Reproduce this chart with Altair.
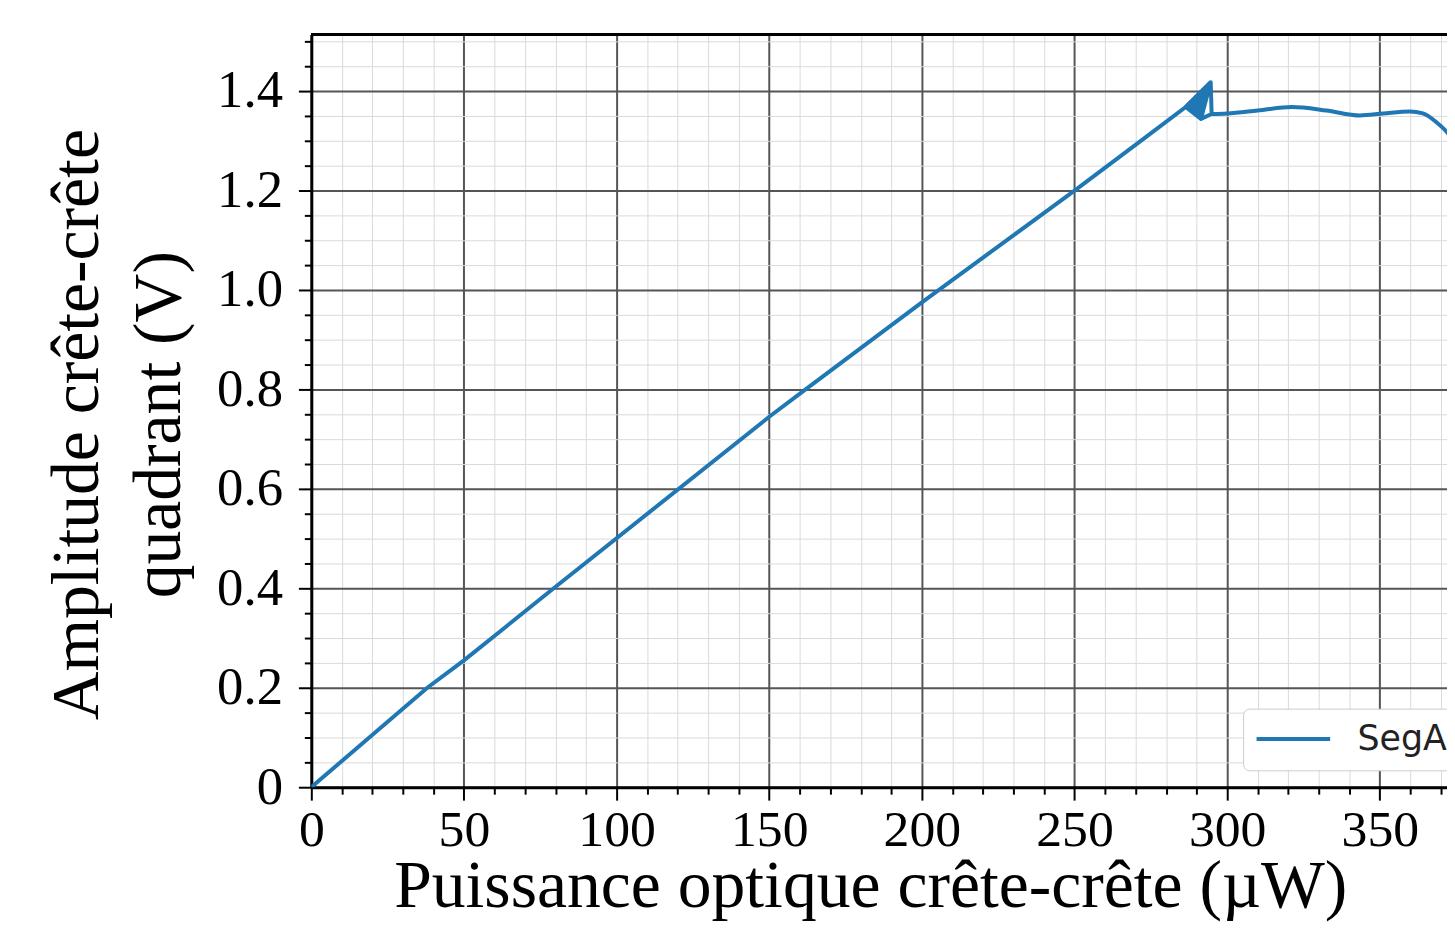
import altair as alt
import pandas as pd

# Data
# rising linear part
rise_x = [0, 38.0, 50, 79.4, 150, 161.9, 200, 250, 272.8, 286.4, 294.6]
rise_y = [0, 0.2, 0.255, 0.4, 0.745, 0.8, 0.975, 1.2, 1.305, 1.368, 1.418]
# noisy back-and-forth cluster at the top of the rise
loop_x = [294.6, 291.4, 293.8, 291.4, 293.0, 291.4, 292.1, 291.4, 291.3, 291.4,
          290.5, 291.4, 289.7, 291.4, 288.9, 291.4, 288.0, 291.4, 287.2, 291.4,
          286.4, 291.4, 294.9, 294.6, 294.9]
loop_y = [1.418, 1.344, 1.413, 1.344, 1.408, 1.344, 1.403, 1.344, 1.398, 1.344,
          1.393, 1.344, 1.388, 1.344, 1.383, 1.344, 1.378, 1.344, 1.373, 1.344,
          1.368, 1.344, 1.354, 1.418, 1.354]
# saturation plateau
plat_x = [294.9, 299.9, 310, 321.2, 332.5, 343.5, 351.1, 359.8, 364.1, 368.4, 372.3, 374]
plat_y = [1.354, 1.355, 1.361, 1.368, 1.361, 1.351, 1.355, 1.359, 1.355, 1.338, 1.315, 1.30]

series_name = "SegA"
x_title = "Puissance optique crête-crête (µW)"
y_title = ["Amplitude crête-crête", "quadrant (V)"]
x_ticks = list(range(0, 380, 10))
y_ticks = [round(i * 0.05, 2) for i in range(31)]


def frame(xs, ys):
    return pd.DataFrame({"x": xs, "y": ys, "i": list(range(len(xs))),
                         "series": [series_name] * len(xs)})


W, H = 1142, 757
SERIF = "Liberation Serif"

x_major = "datum.value % 50 === 0"
y_major = "abs(datum.value * 5 - round(datum.value * 5)) < 0.001"

x_axis = alt.Axis(
    values=x_ticks,
    labelExpr=f"{x_major} ? datum.label : ''",
    labelFlush=False,
    labelOverlap=False,
    labelFont=SERIF,
    labelFontSize={"condition": {"test": x_major, "value": 52}, "value": 1},
    labelColor="black",
    labelBaseline="alphabetic",
    labelPadding=46,
    tickColor="black",
    tickWidth=2,
    tickSize={"condition": {"test": x_major, "value": 13}, "value": 7},
    gridColor={"condition": {"test": x_major, "value": "#555555"}, "value": "#dadada"},
    gridWidth={"condition": {"test": x_major, "value": 2}, "value": 1},
    domainColor="black",
    domainWidth=3,
    title=x_title,
    titleFont=SERIF,
    titleFontSize=68,
    titleFontWeight="normal",
    titleColor="black",
    titleX=562,
    titleY=120,
    titleAlign="center",
    titleBaseline="alphabetic",
)

y_axis = alt.Axis(
    values=y_ticks,
    labelExpr=f"{y_major} ? (datum.value === 0 ? '0' : format(datum.value, '.1f')) : ''",
    labelFlush=False,
    labelOverlap=False,
    labelFont=SERIF,
    labelFontSize={"condition": {"test": y_major, "value": 53}, "value": 1},
    labelColor="black",
    labelPadding=16,
    tickColor="black",
    tickWidth=2,
    tickSize={"condition": {"test": y_major, "value": 13}, "value": 7},
    gridColor={"condition": {"test": y_major, "value": "#555555"}, "value": "#dadada"},
    gridWidth={"condition": {"test": y_major, "value": 2}, "value": 1},
    domainColor="black",
    domainWidth=3,
    title=y_title,
    titleFont=SERIF,
    titleFontSize=68,
    titleFontWeight="normal",
    titleColor="black",
    titleLineHeight=82,
    titleAngle=270,
    titleX=-235,
    titleY=392,
    titleAlign="center",
    titleBaseline="middle",
)

x_enc = alt.X("x:Q", scale=alt.Scale(domain=[0, 372], nice=False, zero=False), axis=x_axis)
y_enc = alt.Y("y:Q", scale=alt.Scale(domain=[0, 1.514], nice=False), axis=y_axis)
color_enc = alt.Color(
    "series:N",
    scale=alt.Scale(range=["#1f77b4"]),
    legend=alt.Legend(
        orient="none",
        legendX=937,
        legendY=678,
        title=None,
        fillColor="white",
        strokeColor="#cccccc",
        cornerRadius=6,
        padding=13,
        symbolType="M-2.5,0H2.5",
        symbolSize=876,
        symbolStrokeWidth=4,
        symbolOffset=20,
        labelFont="DejaVu Sans",
        labelFontSize=35,
        labelColor="#222222",
        labelOffset=47,
    ),
)

rise = alt.Chart(frame(rise_x, rise_y)).mark_line(strokeWidth=4, clip=True).encode(
    x=x_enc, y=y_enc, order=alt.Order("i:Q"), color=color_enc
)
loop = alt.Chart(frame(loop_x, loop_y)).mark_line(strokeWidth=4, clip=True, strokeJoin="round").encode(
    x=x_enc, y=y_enc, order=alt.Order("i:Q"), color=color_enc
)
plateau = alt.Chart(frame(plat_x, plat_y)).mark_line(
    strokeWidth=4, clip=True, interpolate="monotone"
).encode(x=x_enc, y=y_enc, order=alt.Order("i:Q"), color=color_enc)

top_frame = alt.Chart(frame(rise_x, rise_y)).mark_rule(color="black", strokeWidth=3).encode(
    x=alt.value(0), x2=alt.value(W), y=alt.value(0)
)

chart = alt.layer(rise, loop, plateau, top_frame).properties(
    width=W,
    height=H,
    autosize=alt.AutoSizeParams(type="none"),
    padding={"left": 305, "top": 24, "right": 0, "bottom": 134},
).configure_view(stroke=None)

chart.save("out.html", embed_options={"renderer": "svg", "actions": False})
